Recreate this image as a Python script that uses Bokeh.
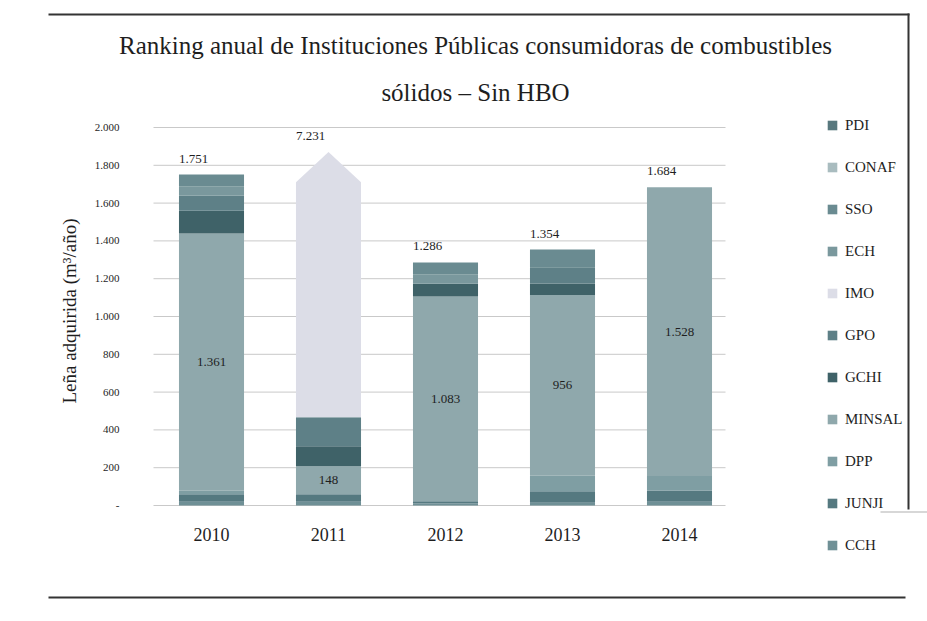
from bokeh.plotting import figure
from bokeh.models import (Range1d, Label, Legend, LegendItem, BoxAnnotation,
                          FixedTicker, ColumnDataSource)
from bokeh.embed import file_html
from bokeh.resources import INLINE
from bokeh.core.properties import value

# ---------------- data ----------------
years = ["2010", "2011", "2012", "2013", "2014"]
stack_order = ["CCH", "JUNJI", "DPP", "MINSAL", "GCHI", "GPO", "IMO", "ECH", "SSO", "CONAF", "PDI"]
CCH = [20, 20, 10, 15, 20]
JUNJI = [40, 40, 13, 60, 60]
DPP = [18, 0, 0, 83, 76]
MINSAL = [1361, 148, 1083, 956, 1528]
GCHI = [120, 106, 67, 60, 0]
GPO = [80, 153, 0, 86, 0]
IMO = [0, 6764, 0, 0, 0]
ECH = [50, 0, 50, 0, 0]
SSO = [62, 0, 63, 94, 0]
CONAF = [0, 0, 0, 0, 0]
PDI = [0, 0, 0, 0, 0]
totals = [1751, 7231, 1286, 1354, 1684]
total_labels = ["1.751", "7.231", "1.286", "1.354", "1.684"]
minsal_labels = ["1.361", "148", "1.083", "956", "1.528"]
y_ticks = [0, 200, 400, 600, 800, 1000, 1200, 1400, 1600, 1800, 2000]
y_tick_labels = ["-", "200", "400", "600", "800", "1.000", "1.200", "1.400", "1.600", "1.800", "2.000"]

series = {"CCH": CCH, "JUNJI": JUNJI, "DPP": DPP, "MINSAL": MINSAL, "GCHI": GCHI,
          "GPO": GPO, "IMO": IMO, "ECH": ECH, "SSO": SSO, "CONAF": CONAF, "PDI": PDI}
colors = {"CCH": "#6f9096", "JUNJI": "#557980", "DPP": "#7f9ea3", "MINSAL": "#8fa8ac",
          "GCHI": "#3f6268", "GPO": "#5e8087", "IMO": "#dcdde7", "ECH": "#7a989d",
          "SSO": "#6a8b91", "CONAF": "#a9bcbf", "PDI": "#58787e"}

FONT = "Liberation Serif"
TXT = "#1e1e1e"
GRID = "#c9c9c9"
Y_MAX = 2000
BAR_W = 0.556

# ---------------- geometry (canvas pixels) ----------------
W, H = 927, 621
PLOT_L, PLOT_R = 153, 725        # where the gridlines start / end
Y0_PX, YMAX_PX = 505, 127        # pixel rows of 0 and Y_MAX
X0_PX, X_STEP = 211, 117         # centre of first category, spacing
py = (Y0_PX - YMAX_PX) / Y_MAX   # px per unit
x_start = (0 - X0_PX) / X_STEP
x_end = (W - X0_PX) / X_STEP
y_start = -(H - Y0_PX) / py
y_end = Y0_PX / py
x_left = (PLOT_L - X0_PX) / X_STEP
x_right = (PLOT_R - X0_PX) / X_STEP

p = figure(width=W, height=H, output_backend="svg", toolbar_location=None,
           x_range=Range1d(x_start, x_end), y_range=Range1d(y_start, y_end),
           min_border=0)
p.outline_line_color = None
p.background_fill_color = "white"
p.border_fill_color = "white"

xs = list(range(len(years)))

# gridlines (only across the plotting area)
p.segment(x0=[x_left] * len(y_ticks), x1=[x_right] * len(y_ticks), y0=y_ticks, y1=y_ticks,
          line_color=GRID, line_width=1)

# display values: an overflowing series is drawn as an arrow instead of a bar
disp = {}
running = [0] * len(years)
overflow = []
for name in stack_order:
    vals = series[name]
    d = []
    for i, v in enumerate(vals):
        if running[i] + v > Y_MAX:
            overflow.append((i, running[i], name))
            d.append(0)
        else:
            d.append(v)
    disp[name] = d
    running = [r + v for r, v in zip(running, d)]

src = ColumnDataSource(dict(x=xs, **disp))
renderers = p.vbar_stack(stack_order, x="x", width=BAR_W, source=src,
                         color=[colors[n] for n in stack_order], line_color=None)
rmap = dict(zip(stack_order, renderers))

# arrow for the off-scale segment
shoulder = Y_MAX * 0.855
tip = Y_MAX * 0.935
for i, base, name in overflow:
    c = xs[i]
    ar = p.patch([c - BAR_W / 2, c - BAR_W / 2, c, c + BAR_W / 2, c + BAR_W / 2],
                 [base, shoulder, tip, shoulder, base],
                 fill_color=colors[name], line_color=None)
    rmap[name] = ar

# total labels
disp_top = [min(t, tip) for t in totals]
p.text(x=xs, y=disp_top, text=total_labels, text_font=value(FONT), text_font_size="13px",
       text_color=TXT, text_align="center", text_baseline="bottom", x_offset=-18, y_offset=-12)

# MINSAL segment labels
mbase = [a + b + c for a, b, c in zip(CCH, JUNJI, DPP)]
mmid = [b + m / 2 for b, m in zip(mbase, MINSAL)]
p.text(x=xs, y=mmid, text=minsal_labels, text_font=value(FONT), text_font_size="13px",
       text_color=TXT, text_align="center", text_baseline="middle")

# axes (fixed inside the full-canvas frame)
p.xaxis.fixed_location = 0
p.xaxis.ticker = FixedTicker(ticks=xs)
p.xaxis.major_label_overrides = {i: y for i, y in zip(xs, years)}
p.xaxis.major_label_text_font = FONT
p.xaxis.major_label_text_font_size = "18px"
p.xaxis.major_label_text_color = TXT
p.xaxis.major_label_standoff = 16
p.xaxis.major_tick_line_color = None
p.xaxis.minor_tick_line_color = None
p.xaxis.axis_line_color = None

p.yaxis.fixed_location = x_left
p.yaxis.ticker = FixedTicker(ticks=y_ticks)
p.yaxis.major_label_overrides = {t: l for t, l in zip(y_ticks, y_tick_labels)}
p.yaxis.major_label_text_font = FONT
p.yaxis.major_label_text_font_size = "11px"
p.yaxis.major_label_text_color = TXT
p.yaxis.major_label_standoff = 28
p.yaxis.major_tick_line_color = None
p.yaxis.minor_tick_line_color = None
p.yaxis.axis_line_color = None
p.yaxis.axis_label = "Leña adquirida (m³/año)"
p.yaxis.axis_label_text_font = FONT
p.yaxis.axis_label_text_font_style = "normal"
p.yaxis.axis_label_text_font_size = "19px"
p.yaxis.axis_label_text_color = TXT
p.yaxis.axis_label_standoff = 12

p.xgrid.grid_line_color = None
p.ygrid.grid_line_color = None

# title (two lines)
for txt, yy in [("Ranking anual de Instituciones Públicas consumidoras de combustibles", 45),
                ("sólidos – Sin HBO", 92)]:
    p.add_layout(Label(x=475, y=H - yy, x_units="screen", y_units="screen", text=txt,
                       text_font=FONT, text_font_size="25px", text_color=TXT,
                       text_align="center", text_baseline="middle"))

# legend
legend_names = list(reversed(stack_order))
items = [LegendItem(label=n, renderers=[rmap[n]]) for n in legend_names]
legend = Legend(items=items, location=(826, H - 556), orientation="vertical",
                glyph_width=12, glyph_height=12, label_height=22, spacing=20,
                padding=0, margin=0, border_line_color=None, background_fill_alpha=0,
                label_text_font=FONT, label_text_font_size="15px", label_text_color=TXT,
                label_standoff=7)
p.add_layout(legend)

# page frame lines (scanned document border)
def box(x0, x1, y0, y1, color="#333333"):
    p.add_layout(BoxAnnotation(left=x0, right=x1, bottom=H - y1, top=H - y0,
                               left_units="screen", right_units="screen",
                               bottom_units="screen", top_units="screen",
                               fill_color=color, fill_alpha=1, line_color=None))

box(48, 909, 13, 15)
box(907, 909, 13, 509)
box(48, 905, 596, 598)
box(880, 927, 511, 512, color="#b0b0b0")

open("out.html", "w").write(file_html(p, INLINE))
